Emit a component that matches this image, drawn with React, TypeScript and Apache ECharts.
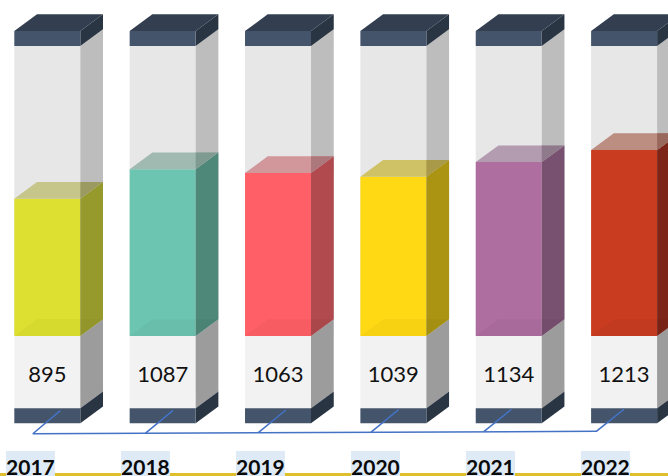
import React, { useEffect, useRef } from "react";
import * as echarts from "echarts";

const years = ["2017", "2018", "2019", "2020", "2021", "2022"];
const values = [895, 1087, 1063, 1039, 1134, 1213];
const axisMax = 2000;

const frontColors = ["#dde030", "#6cc5b0", "#ff5f67", "#fed914", "#ae6e9f", "#c93c20"];
const topColors = ["#c6c58a", "#a0bab2", "#d2979b", "#cfc266", "#b39cb0", "#bc8e82"];
const topSideColors = ["#9b9a60", "#7f9a90", "#ad787b", "#a89a48", "#8f7a8c", "#99685c"];
const sideColors = ["#969a2c", "#4d8878", "#b04a4e", "#aa9411", "#785070", "#7d2518"];

const W = 66;
const DX = 22.7;
const DY = 16.7;
const fontName = "Lato, Carlito, Calibri, sans-serif";

function poly(points: number[][], fill: string) {
  return { type: "polygon", shape: { points }, style: { fill } };
}
function rect(x: number, y: number, width: number, height: number, fill: string) {
  return { type: "rect", shape: { x, y, width, height }, style: { fill } };
}
function line(x1: number, y1: number, x2: number, y2: number) {
  return {
    type: "line",
    shape: { x1, y1, x2, y2 },
    style: { stroke: "#4472c4", lineWidth: 1.5, fill: "none" },
  };
}

function renderItem(params: any, api: any) {
  const i = params.dataIndex;
  const v = api.value(1);
  const [cx, yTop] = api.coord([i, v]);
  const y0 = api.coord([i, 0])[1];
  const yMax = api.coord([i, axisMax])[1];
  const l = cx - 33;
  const r = l + W;
  const rb = r + DX;
  const lb = l + DX;
  const glassTop = yMax + DY;
  const capTop = glassTop - 15;
  const baseTop = y0 + 72.3;
  const baseBottom = baseTop + 15;

  const children: any[] = [
    // glass column
    rect(l, glassTop, W, y0 - glassTop, "#e7e7e7"),
    poly([[r, glassTop], [rb, glassTop - DY], [rb, y0 - DY], [r, y0]], "#bdbdbd"),
    // lower block
    rect(l, y0, W, baseTop - y0, "#f2f2f2"),
    poly([[r, y0], [rb, y0 - DY], [rb, baseTop - DY], [r, baseTop]], "#9c9c9c"),
    // fill
    rect(l, yTop, W, y0 - yTop, frontColors[i]),
    poly([[r, yTop], [rb, yTop - DY], [rb, y0 - DY], [r, y0]], sideColors[i]),
    poly([[l, yTop], [lb, yTop - DY], [rb, yTop - DY], [r, yTop]], topColors[i]),
    poly([[r, yTop], [r, yTop - DY], [rb, yTop - DY]], topSideColors[i]),
    poly([[l, y0], [lb, y0 - DY], [rb, y0 - DY], [r, y0]], "rgba(0,0,0,0.03)"),
    // cap
    poly([[l, capTop], [lb, capTop - DY], [rb, capTop - DY], [r, capTop]], "#333f50"),
    poly([[r, capTop], [rb, capTop - DY], [rb, glassTop - DY], [r, glassTop]], "#2a3544"),
    rect(l, capTop, W, 15, "#44546a"),
    // base
    poly([[r, baseTop], [rb, baseTop - DY], [rb, baseBottom - DY], [r, baseBottom]], "#2a3544"),
    rect(l, baseTop, W, 15, "#44546a"),
    // value
    {
      type: "text",
      style: {
        text: String(v),
        x: cx,
        y: y0 + 37,
        fill: "#111111",
        font: `400 22px ${fontName}`,
        textAlign: "center",
        textVerticalAlign: "middle",
      },
    },
  ];

  // connector ticks
  const tipX = cx + 13 - i * 2.6;
  const tipY = baseTop + 2.3 - i * 0.3;
  const footY = baseTop + 25.4 - i * 0.5;
  children.push(line(tipX, tipY, tipX - 27.5, footY));
  if (i === 0) {
    const lastX = api.coord([years.length - 1, 0])[0];
    children.push(line(tipX - 27.5, footY, lastX - 27, baseTop + 23));
  }

  // year label
  const labelCx = cx - 16.9 - i * 0.35;
  children.push(rect(labelCx - 24.5, y0 + 115, 49, 25, "#deeaf6"));
  children.push({
    type: "text",
    style: {
      text: years[i],
      x: labelCx,
      y: y0 + 130,
      fill: "#0a0a0a",
      font: `700 21px ${fontName}`,
      textAlign: "center",
      textVerticalAlign: "middle",
    },
  });

  return { type: "group", children };
}

export default function App() {
  const ref = useRef<HTMLDivElement>(null);
  useEffect(() => {
    document.body.style.margin = "0";
    const chart = echarts.init(ref.current!, undefined, { renderer: "svg" });
    chart.setOption({
      animation: false,
      backgroundColor: "#ffffff",
      grid: { left: 47.3, width: 576.8, top: 29.3, height: 306.7 },
      xAxis: { type: "category", data: years, boundaryGap: false, show: false },
      yAxis: { type: "value", min: 0, max: axisMax, show: false },
      graphic: [
        {
          type: "rect",
          z: -1,
          shape: { x: 0, y: 473, width: 668, height: 3 },
          style: { fill: "#e0bf2c" },
        },
      ],
      series: [
        {
          type: "custom",
          renderItem,
          clip: false,
          encode: { x: 0, y: 1 },
          data: years.map((_, i) => [i, values[i]]),
        },
      ],
    });
    return () => chart.dispose();
  }, []);
  return (
    <div
      ref={ref}
      style={{ position: "fixed", left: 0, top: 0, width: 668, height: 476, overflow: "hidden" }}
    />
  );
}
